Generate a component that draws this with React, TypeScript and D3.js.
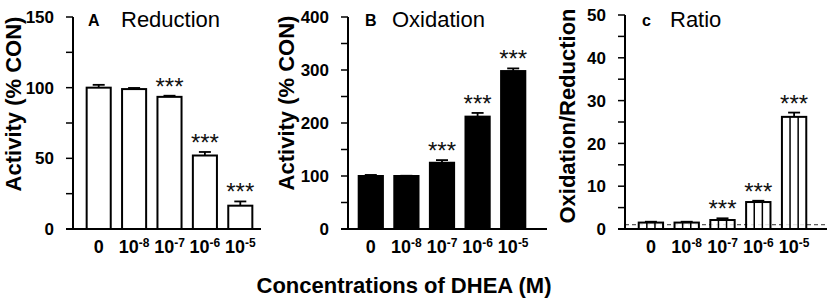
import React from "react";
import * as d3 from "d3";

const categories = ["0", "10-8", "10-7", "10-6", "10-5"];
const catBase = ["0", "10", "10", "10", "10"];
const catExp = ["", "-8", "-7", "-6", "-5"];
const significant = [false, false, true, true, true];

const reduction = [100, 99, 93.5, 52, 16.5];
const reductionErr = [2, 0.8, 0.8, 2.5, 3];
const oxidation = [100, 100, 125, 212, 298];
const oxidationErr = [2, 0.5, 5, 7, 5];
const ratio = [1.5, 1.5, 2.1, 6.3, 26.2];
const ratioErr = [0.2, 0.2, 0.4, 0.3, 1.0];

const ticksA = [0, 50, 100, 150];
const ticksB = [0, 100, 200, 300, 400];
const ticksC = [0, 10, 20, 30, 40, 50];

const FONT = "'Liberation Sans', Arial, Helvetica, sans-serif";

type PanelProps = {
  values: number[];
  errs: number[];
  max: number;
  ticks: number[];
  minorStep: number;
  axisX: number;
  axisEnd: number;
  bandLeft: number;
  bandRight: number;
  yTop: number;
  letter: string;
  letterX: number;
  title: string;
  titleX: number;
  ylabel: string;
  ylabelX: number;
  ylabelY: number;
  style: "white" | "black" | "striped";
  refLine?: number;
};

function Panel(p: PanelProps) {
  const y0 = 229;
  const y = d3.scaleLinear().domain([0, p.max]).range([y0, p.yTop]);
  const x = d3
    .scaleBand<string>()
    .domain(categories)
    .range([p.bandLeft, p.bandRight])
    .paddingInner(0.32)
    .paddingOuter(0.16);
  const bw = x.bandwidth();
  const minor = d3.range(0, p.max + 0.001, p.minorStep);
  return (
    <g>
      <text
        transform={`translate(${p.ylabelX},${p.ylabelY}) rotate(-90)`}
        textAnchor="middle"
        fontFamily={FONT}
        fontWeight="bold"
        fontSize={22}
        fill="#000"
      >
        {p.ylabel}
      </text>
      {minor.map((t) => (
        <line key={"m" + t} x1={p.axisX - 7} x2={p.axisX} y1={y(t)} y2={y(t)} stroke="#000" strokeWidth={1.5} />
      ))}
      {p.ticks.map((t) => (
        <text
          key={"t" + t}
          x={p.axisX - 19}
          y={y(t)}
          dy="0.36em"
          textAnchor="end"
          fontFamily={FONT}
          fontWeight="bold"
          fontSize={17}
          fill="#000"
        >
          {t}
        </text>
      ))}
      {p.refLine !== undefined && (
        <line
          x1={p.axisX}
          x2={p.axisEnd}
          y1={y(p.refLine)}
          y2={y(p.refLine)}
          stroke="#333"
          strokeWidth={1}
          strokeDasharray="4,3"
        />
      )}
      {categories.map((c, i) => {
        const bx = x(c)!;
        const top = y(p.values[i]);
        const eTop = y(p.values[i] + p.errs[i]);
        const cx = bx + bw / 2;
        return (
          <g key={c}>
            <line x1={cx} x2={cx} y1={top} y2={eTop} stroke="#000" strokeWidth={1.8} />
            <line x1={cx - 6} x2={cx + 6} y1={eTop} y2={eTop} stroke="#000" strokeWidth={1.8} />
            <rect
              x={bx}
              y={top}
              width={bw}
              height={y0 - top}
              fill={p.style === "black" ? "#000" : "#fff"}
              fillOpacity={p.style === "black" ? 1 : 0.85}
              stroke="#000"
              strokeWidth={2}
            />
            {p.style === "striped" && (
              <>
                <line x1={bx + bw / 3} x2={bx + bw / 3} y1={top} y2={y0} stroke="#000" strokeWidth={1.5} />
                <line x1={bx + (2 * bw) / 3} x2={bx + (2 * bw) / 3} y1={top} y2={y0} stroke="#000" strokeWidth={1.5} />
              </>
            )}
            {significant[i] && (
              <text
                x={cx}
                y={eTop - 1}
                textAnchor="middle"
                fontFamily={FONT}
                fontSize={24}
                fill="#111"
              >
                ***
              </text>
            )}
            <text
              x={cx}
              y={253}
              textAnchor="middle"
              fontFamily={FONT}
              fontWeight="bold"
              fontSize={18}
              fill="#000"
            >
              {catBase[i]}
              {catExp[i] && (
                <tspan fontSize={12} dy={-6}>
                  {catExp[i]}
                </tspan>
              )}
            </text>
          </g>
        );
      })}
      <line x1={p.axisX} x2={p.axisX} y1={p.yTop} y2={y0} stroke="#000" strokeWidth={2} />
      <line x1={p.axisX - 7} x2={p.axisEnd} y1={y0} y2={y0} stroke="#000" strokeWidth={2} />
      <text x={p.letterX} y={26} fontFamily={FONT} fontWeight="bold" fontSize={16} fill="#000">
        {p.letter}
      </text>
      <text x={p.titleX} y={27} fontFamily={FONT} fontSize={22} fill="#000">
        {p.title}
      </text>
    </g>
  );
}

export default function App() {
  return (
    <svg
      width={829}
      height={300}
      style={{ position: "absolute", left: 0, top: 0, background: "#fff" }}
    >
      <Panel
        values={reduction}
        errs={reductionErr}
        max={150}
        ticks={ticksA}
        minorStep={25}
        axisX={73}
        axisEnd={261}
        bandLeft={81}
        bandRight={258}
        yTop={17}
        letter="A"
        letterX={88}
        title="Reduction"
        titleX={121}
        ylabel="Activity (% CON)"
        ylabelX={21}
        ylabelY={104}
        style="white"
      />
      <Panel
        values={oxidation}
        errs={oxidationErr}
        max={400}
        ticks={ticksB}
        minorStep={50}
        axisX={348}
        axisEnd={547}
        bandLeft={353}
        bandRight={531}
        yTop={17}
        letter="B"
        letterX={365}
        title="Oxidation"
        titleX={392}
        ylabel="Activity (% CON)"
        ylabelX={294}
        ylabelY={103}
        style="black"
      />
      <Panel
        values={ratio}
        errs={ratioErr}
        max={50}
        ticks={ticksC}
        minorStep={5}
        axisX={625}
        axisEnd={827}
        bandLeft={633}
        bandRight={812}
        yTop={15}
        letter="c"
        letterX={642}
        title="Ratio"
        titleX={670}
        ylabel="Oxidation/Reduction"
        ylabelX={575}
        ylabelY={116}
        style="striped"
        refLine={1}
      />
      <text
        x={404}
        y={293}
        textAnchor="middle"
        fontFamily={FONT}
        fontWeight="bold"
        fontSize={22}
        fill="#000"
      >
        Concentrations of DHEA (M)
      </text>
    </svg>
  );
}
